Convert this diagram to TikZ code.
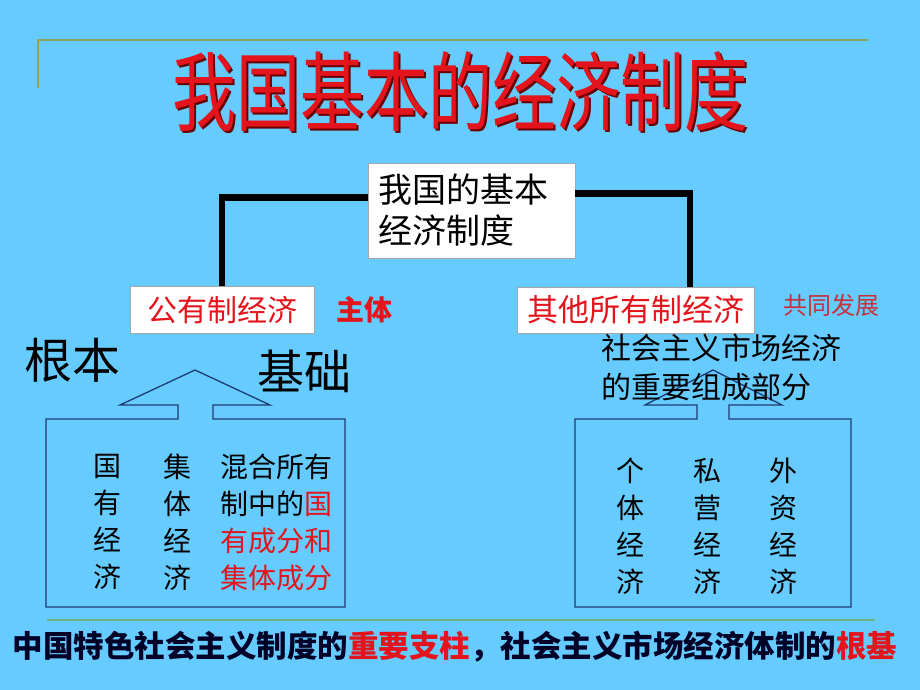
\documentclass[tikz,border=0pt]{standalone}
\usepackage{fontspec}
\setmainfont{Noto Sans CJK SC}
\usetikzlibrary{positioning}
\definecolor{sky}{HTML}{66CCFF}
\definecolor{tred}{HTML}{E3141C}
\definecolor{mred}{HTML}{C8303C}
\definecolor{navy}{HTML}{1F3B73}
\definecolor{olive}{HTML}{8FA560}
\definecolor{leaf}{HTML}{6DB382}
\begin{document}
\begin{tikzpicture}[x=1pt, y=-1pt,
  box/.style={draw=gray!70, fill=white, inner sep=0pt},
  link/.style={line width=6.5pt},
  frame/.style={draw=navy, line width=1.3pt},
  col/.style={align=center, font=\fontsize{28}{37}\selectfont}]
\fill[sky] (0,0) rectangle (920,690);
\useasboundingbox (0,0) rectangle (920,690);
% rules
\draw[olive, line width=2.5pt] (38,88) -- (38,40) -- (868,40);
\draw[leaf, line width=2.5pt] (47,620) -- (875,620);
% title
\node (shadow) at (462,94) [text=red!40!black, font=\fontsize{64}{64}\selectfont] {\scalebox{1}[1.35]{我国基本的经济制度}};
\node (title) at (460,92) [text=tred, font=\fontsize{64}{64}\selectfont] {\scalebox{1}[1.35]{我国基本的经济制度}};
% tree
\node (sys) at (471.5,210.5) [box, minimum width=207pt, minimum height=95pt, text width=187pt, align=left, font=\fontsize{34}{41}\selectfont] {我国的基本\\经济制度};
\node (pub) at (222,310) [box, minimum width=184pt, minimum height=47pt, text=tred, font=\fontsize{30}{30}\selectfont] {公有制经济};
\node (main) [right=19pt of pub, text=tred, font=\bfseries\fontsize{28}{28}\selectfont] {主体};
\node (oth) at (636,310) [box, minimum width=237pt, minimum height=46pt, text=tred, font=\fontsize{31}{31}\selectfont] {其他所有制经济};
\node (joint) [right=25pt of oth, yshift=5pt, text=mred, font=\fontsize{24}{24}\selectfont] {共同发展};
\draw[link] ([yshift=13pt]sys.west) -| (pub.north);
\draw[link] ([yshift=17pt]sys.east) -| ([xshift=54pt]oth.north);
% public side
\node (root) at (72,360) [font=\fontsize{48}{48}\selectfont] {根本};
\node (base) at (304,371) [font=\fontsize{47}{47}\selectfont] {基础};
\draw[frame] (46,419) -- (178,419) -- (178,405) -- (120,405) -- (195,370) -- (270,405)
  -- (213,405) -- (213,419) -- (345,419) -- (345,607) -- (46,607) -- cycle;
\node (state) at (107,522) [col] {国\\有\\经\\济};
\node (coll) at (177,522) [col] {集\\体\\经\\济};
\node (mixed) at (276,522) [col] {混合所有\\制中的\textcolor{tred}{国}\\\textcolor{tred}{有成分和}\\\textcolor{tred}{集体成分}};
% other side
\draw[frame] (575,419) -- (697,419) -- (697,405) -- (645,405) -- (713,370) -- (782,405)
  -- (729,405) -- (729,419) -- (851,419) -- (851,607) -- (575,607) -- cycle;
\node (part) at (721,368) [align=left, font=\fontsize{30}{39}\selectfont] {社会主义市场经济\\的重要组成部分};
\node (indiv) at (630,526) [col] {个\\体\\经\\济};
\node (priv) at (707,526) [col] {私\\营\\经\\济};
\node (foreign) at (783,526) [col] {外\\资\\经\\济};
% footer
\node (foot) at (455,647) [text=black!85!blue, font=\bfseries\fontsize{30.5}{30.5}\selectfont] {中国特色社会主义制度的\textcolor{tred}{重要支柱}，社会主义市场经济体制的\textcolor{tred}{根基}};
\end{tikzpicture}
\end{document}
